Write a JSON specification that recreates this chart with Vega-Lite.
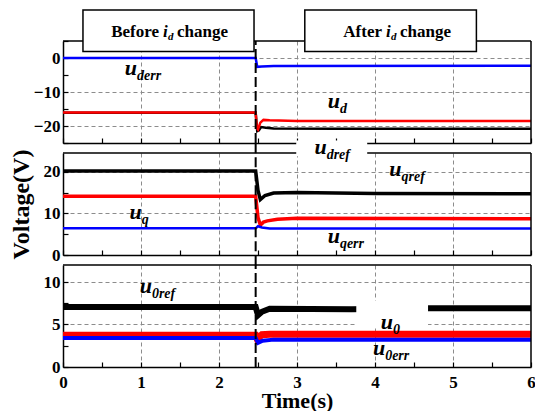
{
  "$schema": "https://vega.github.io/schema/vega-lite/v6.json",
  "background": "white",
  "padding": {"left": 9, "top": 9, "right": 0, "bottom": 0},
  "autosize": {"type": "pad"},
  "spacing": 10,
  "bounds": "flush",
  "resolve": {"scale": {"x": "independent", "y": "independent", "color": "independent"}},
  "datasets": {
    "top": [
      {"s": "k", "t": 0, "v": -16.1}, {"s": "k", "t": 2.47, "v": -16.1}, {"s": "k", "t": 2.49, "v": -21.5}, {"s": "k", "t": 2.51, "v": -21.3}, {"s": "k", "t": 2.54, "v": -20.3}, {"s": "k", "t": 2.6, "v": -20.5}, {"s": "k", "t": 2.7, "v": -20.7}, {"s": "k", "t": 3.5, "v": -20.8}, {"s": "k", "t": 6, "v": -20.8},
      {"s": "r", "t": 0, "v": -16}, {"s": "r", "t": 2.47, "v": -16}, {"s": "r", "t": 2.485, "v": -20.5}, {"s": "r", "t": 2.5, "v": -21}, {"s": "r", "t": 2.53, "v": -19}, {"s": "r", "t": 2.57, "v": -18.2}, {"s": "r", "t": 2.65, "v": -18.3}, {"s": "r", "t": 3, "v": -18.5}, {"s": "r", "t": 6, "v": -18.5},
      {"s": "b", "t": 0, "v": 0}, {"s": "b", "t": 2.47, "v": 0}, {"s": "b", "t": 2.49, "v": -2.6}, {"s": "b", "t": 2.55, "v": -2.5}, {"s": "b", "t": 2.7, "v": -2.35}, {"s": "b", "t": 6, "v": -2.3}
    ],
    "mid": [
      {"s": "k", "t": 0, "v": 20.2}, {"s": "k", "t": 2.47, "v": 20.2}, {"s": "k", "t": 2.5, "v": 15.5}, {"s": "k", "t": 2.53, "v": 13.3}, {"s": "k", "t": 2.59, "v": 14.3}, {"s": "k", "t": 2.7, "v": 14.9}, {"s": "k", "t": 3, "v": 15.0}, {"s": "k", "t": 4, "v": 14.8}, {"s": "k", "t": 6, "v": 14.7},
      {"s": "r", "t": 0, "v": 14.1}, {"s": "r", "t": 2.47, "v": 14.1}, {"s": "r", "t": 2.5, "v": 9}, {"s": "r", "t": 2.53, "v": 7.2}, {"s": "r", "t": 2.57, "v": 7.9}, {"s": "r", "t": 2.62, "v": 8.2}, {"s": "r", "t": 2.75, "v": 8.6}, {"s": "r", "t": 3, "v": 8.8}, {"s": "r", "t": 6, "v": 8.7},
      {"s": "b", "t": 0, "v": 6.4}, {"s": "b", "t": 2.47, "v": 6.4}, {"s": "b", "t": 2.5, "v": 6.9}, {"s": "b", "t": 2.55, "v": 6.6}, {"s": "b", "t": 2.65, "v": 6.35}, {"s": "b", "t": 6, "v": 6.35}
    ],
    "bot": [
      {"s": "k", "t": 0, "v": 7.05}, {"s": "k", "t": 2.47, "v": 7.05}, {"s": "k", "t": 2.5, "v": 6.1}, {"s": "k", "t": 2.55, "v": 6.5}, {"s": "k", "t": 2.65, "v": 6.85}, {"s": "k", "t": 3.7, "v": 6.8}, {"s": "k", "t": 4.7, "v": 6.9}, {"s": "k", "t": 6, "v": 6.9},
      {"s": "r", "t": 0, "v": 3.75}, {"s": "r", "t": 2.47, "v": 3.75}, {"s": "r", "t": 2.49, "v": 3.3}, {"s": "r", "t": 2.55, "v": 3.8}, {"s": "r", "t": 2.65, "v": 3.85}, {"s": "r", "t": 6, "v": 3.85},
      {"s": "b", "t": 0, "v": 3.42}, {"s": "b", "t": 2.47, "v": 3.42}, {"s": "b", "t": 2.5, "v": 2.85}, {"s": "b", "t": 2.56, "v": 3.1}, {"s": "b", "t": 2.7, "v": 3.22}, {"s": "b", "t": 6, "v": 3.22}
    ],
    "labtop": [
      {"t": 0.95, "v": -4.9, "m": "u", "sub": "derr"},
      {"t": 3.55, "v": -14.6, "m": "u", "sub": "d"}
    ],
    "labmid": [
      {"t": 1.01, "v": 8.6, "m": "u", "sub": "q"},
      {"t": 4.34, "v": 19.0, "m": "u", "sub": "qref"},
      {"t": 3.55, "v": 2.9, "m": "u", "sub": "qerr"},
      {"t": 3.38, "v": 24.3, "m": "u", "sub": "dref"}
    ],
    "labbot": [
      {"t": 1.14, "v": 8.7, "m": "u", "sub": "0ref"},
      {"t": 4.23, "v": 4.47, "m": "u", "sub": "0"},
      {"t": 4.13, "v": 1.36, "m": "u", "sub": "0err"}
    ],
    "boxtxt": [
      {"t": 1.282, "v": 6.3, "a": "Before", "b": "i", "c": "d", "d": "change"},
      {"t": 4.141, "v": 6.3, "a": "After", "b": "i", "c": "d", "d": "change"}
    ]
  },
  "vconcat": [
    {
      "width": 468, "height": 102,
      "encoding": {
        "x": {"field": "t", "type": "quantitative", "scale": {"domain": [0, 6], "nice": false},
          "axis": {"values": [0, 0.5, 1, 1.5, 2, 2.5, 3, 3.5, 4, 4.5, 5, 5.5, 6], "labels": false, "title": null,
            "gridOpacity": {"condition": {"test": "abs(datum.value % 1) > 0.01 || datum.value === 0 || datum.value === 6", "value": 0}, "value": 1}}},
        "y": {"field": "v", "type": "quantitative", "scale": {"domain": [-25, 5], "nice": false, "zero": false},
          "axis": {"values": [-25, -20, -15, -10, -5, 0, 5], "title": null, "labelExpr": "abs(datum.value % 10) < 0.01 ? format(datum.value, 'd') : ''",
            "gridOpacity": {"condition": {"test": "abs(datum.value % 10) > 0.01", "value": 0}, "value": 1}}}
      },
      "layer": [
        {
          "data": {"name": "top"},
          "mark": {"type": "line", "strokeWidth": 2.5},
          "encoding": {
            "color": {"field": "s", "type": "nominal", "scale": {"domain": ["k", "r", "b"], "range": ["#000000", "#ff0000", "#0000ff"]}, "legend": null}
          }
        },
        {"data": {"name": "boxtxt"}, "transform": [{"filter": "datum.a === 'Before'"}], "mark": {"type": "rule", "color": "black", "strokeWidth": 2, "strokeDash": [10, 4]},
          "encoding": {"x": {"datum": 2.47}, "y": {"datum": -25}, "y2": {"datum": 5}}},
        {"data": {"name": "boxtxt"}, "transform": [{"filter": "datum.a === 'Before'"}], "mark": {"type": "rule", "color": "black", "strokeWidth": 1.5},
          "encoding": {"x": {"datum": 0}, "x2": {"datum": 6}, "y": {"datum": 5}}},
        {"data": {"name": "boxtxt"}, "transform": [{"filter": "datum.a === 'Before'"}], "mark": {"type": "rule", "color": "black", "strokeWidth": 1.5},
          "encoding": {"x": {"datum": 6}, "y": {"datum": -25}, "y2": {"datum": 5}}},
        {"data": {"name": "boxtxt"}, "transform": [{"filter": "datum.a === 'Before'"}], "mark": {"type": "rect", "fill": "white", "stroke": "black", "strokeWidth": 1.5},
          "encoding": {"x": {"datum": 0.256}, "x2": {"datum": 2.449}, "y": {"datum": 14.1}, "y2": {"datum": 1.93}}},
        {"data": {"name": "boxtxt"}, "transform": [{"filter": "datum.a === 'Before'"}], "mark": {"type": "rect", "fill": "white", "stroke": "black", "strokeWidth": 1.5},
          "encoding": {"x": {"datum": 3.1}, "x2": {"datum": 5.3}, "y": {"datum": 14.1}, "y2": {"datum": 1.93}}},
        {"data": {"name": "boxtxt"}, "mark": {"type": "text", "align": "right", "baseline": "alphabetic", "dx": -4, "font": "Liberation Serif", "fontWeight": "bold", "fontSize": 17, "color": "black"},
          "encoding": {"text": {"field": "a"}}},
        {"data": {"name": "boxtxt"}, "mark": {"type": "text", "align": "left", "baseline": "alphabetic", "dx": 0, "font": "Liberation Serif", "fontWeight": "bold", "fontStyle": "italic", "fontSize": 17, "color": "black"},
          "encoding": {"text": {"field": "b"}}},
        {"data": {"name": "boxtxt"}, "mark": {"type": "text", "align": "left", "baseline": "alphabetic", "dx": 5, "dy": 3, "font": "Liberation Serif", "fontWeight": "bold", "fontStyle": "italic", "fontSize": 11, "color": "black"},
          "encoding": {"text": {"field": "c"}}},
        {"data": {"name": "boxtxt"}, "mark": {"type": "text", "align": "left", "baseline": "alphabetic", "dx": 14, "font": "Liberation Serif", "fontWeight": "bold", "fontSize": 17, "color": "black"},
          "encoding": {"text": {"field": "d"}}},
        {"data": {"name": "labtop"}, "mark": {"type": "text", "align": "right", "baseline": "alphabetic", "font": "Liberation Serif", "fontWeight": "bold", "fontStyle": "italic", "fontSize": 22, "color": "black"},
          "encoding": {"text": {"field": "m"}}},
        {"data": {"name": "labtop"}, "mark": {"type": "text", "align": "left", "baseline": "alphabetic", "dy": 5, "font": "Liberation Serif", "fontWeight": "bold", "fontStyle": "italic", "fontSize": 14, "color": "black"},
          "encoding": {"text": {"field": "sub"}}}
      ]
    },
    {
      "width": 468, "height": 102,
      "encoding": {
        "x": {"field": "t", "type": "quantitative", "scale": {"domain": [0, 6], "nice": false},
          "axis": {"values": [0, 0.5, 1, 1.5, 2, 2.5, 3, 3.5, 4, 4.5, 5, 5.5, 6], "labels": false, "title": null,
            "gridOpacity": {"condition": {"test": "abs(datum.value % 1) > 0.01 || datum.value === 0 || datum.value === 6", "value": 0}, "value": 1}}},
        "y": {"field": "v", "type": "quantitative", "scale": {"domain": [0, 24.5], "nice": false, "zero": false},
          "axis": {"values": [0, 5, 10, 15, 20], "title": "Voltage(V)", "titleFontSize": 24, "titlePadding": 10, "labelExpr": "abs(datum.value % 10) < 0.01 ? format(datum.value, 'd') : ''",
            "gridOpacity": {"condition": {"test": "abs(datum.value % 10) > 0.01 || datum.value === 0", "value": 0}, "value": 1}}}
      },
      "layer": [
        {
          "data": {"name": "mid"},
          "mark": {"type": "line"},
          "encoding": {
            "color": {"field": "s", "type": "nominal", "scale": {"domain": ["k", "r", "b"], "range": ["#000000", "#ff0000", "#0000ff"]}, "legend": null},
            "strokeWidth": {"condition": {"test": "datum.s === 'b'", "value": 2.5}, "value": 3.5}
          }
        },
        {"data": {"name": "labmid"}, "transform": [{"filter": "datum.sub === 'q'"}], "mark": {"type": "rule", "color": "black", "strokeWidth": 2, "strokeDash": [10, 4]},
          "encoding": {"x": {"datum": 2.47}, "y": {"datum": -2.45}, "y2": {"datum": 26.95}}},
        {"data": {"name": "labmid"}, "transform": [{"filter": "datum.sub === 'q'"}], "mark": {"type": "rule", "color": "black", "strokeWidth": 1.5},
          "encoding": {"x": {"datum": 0}, "x2": {"datum": 6}, "y": {"datum": 24.5}}},
        {"data": {"name": "labmid"}, "transform": [{"filter": "datum.sub === 'q'"}], "mark": {"type": "rule", "color": "black", "strokeWidth": 1.5},
          "encoding": {"x": {"datum": 6}, "y": {"datum": 0}, "y2": {"datum": 24.5}}},
        {"data": {"name": "labmid"}, "transform": [{"filter": "datum.sub === 'q'"}], "mark": {"type": "rect", "fill": "white"},
          "encoding": {"x": {"datum": 2.99}, "x2": {"datum": 3.9}, "y": {"datum": 23.7}, "y2": {"datum": 27.5}}},
        {"data": {"name": "labmid"}, "mark": {"type": "text", "align": "right", "baseline": "alphabetic", "font": "Liberation Serif", "fontWeight": "bold", "fontStyle": "italic", "fontSize": 22, "color": "black"},
          "encoding": {"text": {"field": "m"}}},
        {"data": {"name": "labmid"}, "mark": {"type": "text", "align": "left", "baseline": "alphabetic", "dy": 5, "font": "Liberation Serif", "fontWeight": "bold", "fontStyle": "italic", "fontSize": 14, "color": "black"},
          "encoding": {"text": {"field": "sub"}}}
      ]
    },
    {
      "width": 468, "height": 102,
      "encoding": {
        "x": {"field": "t", "type": "quantitative", "scale": {"domain": [0, 6], "nice": false},
          "axis": {"values": [0, 0.5, 1, 1.5, 2, 2.5, 3, 3.5, 4, 4.5, 5, 5.5, 6], "title": "Time(s)", "titleFontSize": 22, "titlePadding": 0, "labelPadding": 12,
            "labelExpr": "abs(datum.value % 1) < 0.01 ? format(datum.value, 'd') : ''",
            "gridOpacity": {"condition": {"test": "abs(datum.value % 1) > 0.01 || datum.value === 0 || datum.value === 6", "value": 0}, "value": 1}}},
        "y": {"field": "v", "type": "quantitative", "scale": {"domain": [0, 12], "nice": false, "zero": false},
          "axis": {"values": [0, 2.5, 5, 7.5, 10], "title": null, "labelExpr": "abs(datum.value % 5) < 0.01 ? format(datum.value, 'd') : ''",
            "gridOpacity": {"condition": {"test": "abs(datum.value % 5) > 0.01 || datum.value === 0", "value": 0}, "value": 1}}}
      },
      "layer": [
        {
          "data": {"name": "bot"},
          "mark": {"type": "line"},
          "encoding": {
            "color": {"field": "s", "type": "nominal", "scale": {"domain": ["k", "r", "b"], "range": ["#000000", "#ff0000", "#0000ff"]}, "legend": null},
            "strokeWidth": {"condition": [{"test": "datum.s === 'k'", "value": 6}, {"test": "datum.s === 'r'", "value": 7}], "value": 4}
          }
        },
        {"data": {"name": "labbot"}, "transform": [{"filter": "datum.sub === '0'"}], "mark": {"type": "rule", "color": "black", "strokeWidth": 2, "strokeDash": [10, 4]},
          "encoding": {"x": {"datum": 2.47}, "y": {"datum": 0}, "y2": {"datum": 12}}},
        {"data": {"name": "labbot"}, "transform": [{"filter": "datum.sub === '0'"}], "mark": {"type": "rule", "color": "black", "strokeWidth": 1.5},
          "encoding": {"x": {"datum": 0}, "x2": {"datum": 6}, "y": {"datum": 12}}},
        {"data": {"name": "labbot"}, "transform": [{"filter": "datum.sub === '0'"}], "mark": {"type": "rule", "color": "black", "strokeWidth": 1.5},
          "encoding": {"x": {"datum": 6}, "y": {"datum": 0}, "y2": {"datum": 12}}},
        {"data": {"name": "labbot"}, "transform": [{"filter": "datum.sub === '0'"}], "mark": {"type": "rect", "fill": "white"},
          "encoding": {"x": {"datum": 3.76}, "x2": {"datum": 4.68}, "y": {"datum": 4.6}, "y2": {"datum": 7.8}}},
        {"data": {"name": "labbot"}, "mark": {"type": "text", "align": "right", "baseline": "alphabetic", "font": "Liberation Serif", "fontWeight": "bold", "fontStyle": "italic", "fontSize": 22, "color": "black"},
          "encoding": {"text": {"field": "m"}}},
        {"data": {"name": "labbot"}, "mark": {"type": "text", "align": "left", "baseline": "alphabetic", "dy": 5, "font": "Liberation Serif", "fontWeight": "bold", "fontStyle": "italic", "fontSize": 14, "color": "black"},
          "encoding": {"text": {"field": "sub"}}}
      ]
    }
  ],
  "config": {
    "view": {"stroke": null},
    "font": "Liberation Serif",
    "axis": {
      "domainColor": "black", "domainWidth": 1.5,
      "tickColor": "black", "tickWidth": 1.2, "tickSize": -5,
      "labelFont": "Liberation Serif", "labelFontWeight": "bold", "labelFontSize": 17, "labelColor": "black",
      "labelPadding": 8, "labelFlush": false, "labelOverlap": false,
      "titleFont": "Liberation Serif", "titleFontWeight": "bold", "titleColor": "black",
      "grid": true, "gridColor": "#8c8c8c", "gridDash": [4, 3], "gridWidth": 1
    }
  }
}
